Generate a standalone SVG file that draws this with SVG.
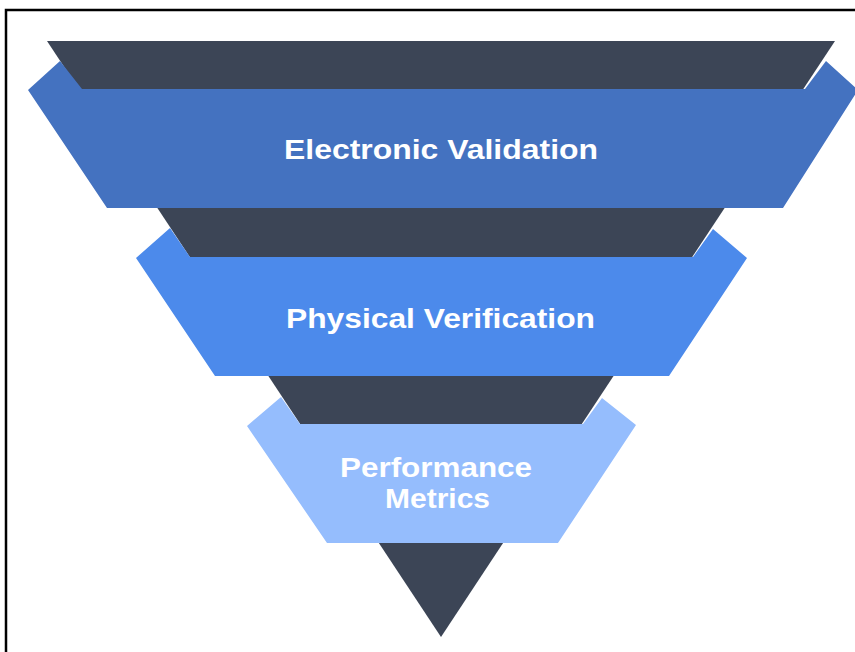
<svg xmlns="http://www.w3.org/2000/svg" width="855" height="652" viewBox="0 0 855 652">
<style>
.dark{fill:#3c4556}
.lbl{fill:#ffffff;font-family:"Liberation Sans",Arial,sans-serif;font-weight:bold;font-size:28px;text-anchor:middle}
</style>
<rect x="0" y="0" width="855" height="652" fill="#ffffff"/>
<rect x="6" y="10" width="860" height="660" fill="none" stroke="#000000" stroke-width="2.5"/>
<g id="funnel-base">
<polygon class="dark" points="47,41 835,41 441,637"/>
</g>
<g id="connectors"></g>
<g id="electronic-validation">
<polygon fill="#4472c0" points="60,61 82,89 805,89 826,61 858,90 783,208 107,208 28,90"/>
<text class="lbl" x="441" y="159" textLength="314" lengthAdjust="spacingAndGlyphs">Electronic Validation</text>
</g>
<g id="physical-verification">
<polygon fill="#4c8aeb" points="170,228 190,257 693,257 713,229 747,258 669,376 215,376 136,258"/>
<text class="lbl" x="440.5" y="328" textLength="309" lengthAdjust="spacingAndGlyphs">Physical Verification</text>
</g>
<g id="performance-metrics">
<polygon fill="#95bdfd" points="281,397 300,424 583,424 602,398 636,425 558,543 327,543 247,426"/>
<text class="lbl" x="436" y="477" font-size="27" textLength="192" lengthAdjust="spacingAndGlyphs">Performance</text>
<text class="lbl" x="437.5" y="508" font-size="27" textLength="105" lengthAdjust="spacingAndGlyphs">Metrics</text>
</g>
</svg>
